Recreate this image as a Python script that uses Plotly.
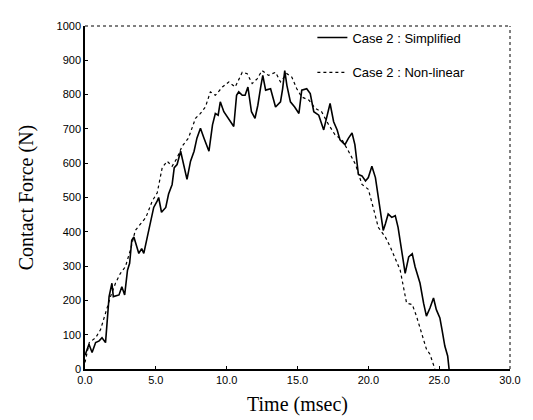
import plotly.graph_objects as go

# Case 2 : Simplified (solid)
t_simplified = [0.0, 0.28, 0.5, 0.75, 1.0, 1.2, 1.45, 1.5, 1.7, 1.9, 2.0, 2.4, 2.6, 2.8, 3.0, 3.15,
                3.3, 3.45, 3.8, 4.0, 4.15, 4.4, 4.6, 4.85, 5.1, 5.2, 5.4, 5.7, 5.9, 6.15, 6.3, 6.5,
                6.75, 7.0, 7.2, 7.45, 7.7, 7.9, 8.15, 8.4, 8.75, 9.0, 9.2, 9.4, 9.55, 9.8, 10.1,
                10.5, 10.7, 10.85, 11.1, 11.3, 11.5, 11.75, 12.0, 12.2, 12.4, 12.55, 12.75, 13.1,
                13.45, 13.8, 13.95, 14.1, 14.25, 14.5, 14.8, 15.1, 15.3, 15.65, 15.9, 16.15, 16.5,
                16.85, 17.1, 17.3, 17.55, 17.8, 18.0, 18.35, 18.6, 18.85, 19.05, 19.3, 19.55, 19.8,
                20.0, 20.25, 20.5, 20.7, 20.9, 21.05, 21.2, 21.4, 21.65, 21.9, 22.1, 22.35, 22.6,
                22.85, 23.1, 23.3, 23.65, 23.9, 24.1, 24.35, 24.6, 24.8, 25.05, 25.2, 25.4, 25.6, 25.7]
f_simplified = [40, 72, 48, 77, 82, 91, 77, 106, 211, 250, 211, 216, 240, 216, 288, 308,
                375, 385, 337, 351, 337, 385, 423, 471, 490, 500, 457, 471, 510, 538, 587, 596,
                635, 587, 553, 606, 635, 673, 702, 673, 635, 712, 745, 740, 779, 750, 731,
                707, 798, 808, 798, 798, 822, 750, 731, 769, 822, 856, 813, 817,
                764, 779, 817, 870, 827, 779, 764, 745, 813, 817, 803, 750, 740,
                697, 740, 774, 721, 697, 668, 654, 673, 688, 654, 567, 563, 548,
                558, 591, 558, 500, 452, 404, 423, 452, 442, 447, 413, 346, 279,
                327, 336, 298, 250, 192, 154, 178, 207, 173, 149, 115, 67, 38, 0]

# Case 2 : Non-linear (dotted)
t_nonlinear = [0.0, 0.3, 0.75, 1.1, 1.45, 1.8, 2.15, 2.5, 2.85, 3.2, 3.55, 3.9, 4.3, 4.75, 5.1,
               5.45, 5.8, 6.15, 6.5, 6.85, 7.3, 7.8, 8.15, 8.5, 8.85, 9.2, 9.7, 10.15, 10.6,
               11.1, 11.45, 11.8, 12.15, 12.5, 12.95, 13.45, 13.8, 14.25, 14.6, 14.95, 15.3,
               15.8, 16.25, 16.7, 17.2, 17.65, 18.15, 18.6, 19.1, 19.55, 20.0, 20.4, 20.7,
               21.2, 21.55, 21.9, 22.25, 22.7, 23.1, 23.4, 23.8, 24.1, 24.35, 24.7]
f_nonlinear = [19, 77, 91, 115, 163, 211, 250, 279, 298, 346, 404, 423, 442, 490, 514,
               587, 606, 591, 615, 649, 673, 731, 745, 764, 808, 798, 822, 837, 822,
               865, 861, 832, 846, 870, 856, 865, 837, 861, 851, 817, 793,
               784, 760, 750, 712, 683, 668, 635, 596, 538, 524, 462, 413,
               385, 356, 322, 288, 192, 188, 154, 101, 58, 43, 0]

x_ticks = [0, 5, 10, 15, 20, 25, 30]
y_ticks = [0, 100, 200, 300, 400, 500, 600, 700, 800, 900, 1000]

fig = go.Figure()
fig.add_trace(go.Scatter(x=t_simplified, y=f_simplified, mode="lines",
                         name="Case 2 : Simplified", legendgroup="a",
                         line=dict(color="black", width=1.6)))
fig.add_trace(go.Scatter(x=t_nonlinear, y=f_nonlinear, mode="lines",
                         name="Case 2 : Non-linear", legendgroup="b",
                         line=dict(color="black", width=1.2, dash="dot")))

fig.update_layout(
    width=533, height=420,
    margin=dict(l=77, r=31, t=13, b=59),
    paper_bgcolor="white", plot_bgcolor="white",
    showlegend=True,
    legend=dict(x=0.535, y=1.01, xanchor="left", yanchor="top",
                font=dict(family="Liberation Sans, Arial", size=13, color="black"),
                bgcolor="rgba(0,0,0,0)", tracegroupgap=15, itemwidth=30),
    xaxis=dict(range=[0, 30], tickvals=x_ticks, tickformat=".1f",
               ticks="inside", ticklen=3, tickcolor="black",
               showline=True, linecolor="black", linewidth=1.5,
               showgrid=False, zeroline=False,
               tickfont=dict(family="Liberation Sans, Arial", size=11, color="black"),
               title=dict(text="Time (msec)", standoff=12,
                          font=dict(family="Liberation Serif, Times New Roman", size=20, color="black"))),
    yaxis=dict(range=[0, 1000], tickvals=y_ticks,
               ticks="inside", ticklen=3, tickcolor="black",
               showline=True, linecolor="black", linewidth=1.5,
               showgrid=False, zeroline=False,
               tickfont=dict(family="Liberation Sans, Arial", size=11, color="black"),
               title=dict(text="Contact Force (N)", standoff=18,
                          font=dict(family="Liberation Serif, Times New Roman", size=20, color="black"))),
)

# dotted top and right frame
fig.add_shape(type="line", xref="x domain", yref="y domain", x0=0, x1=1, y0=1, y1=1,
              line=dict(color="black", width=1, dash="dot"))
fig.add_shape(type="line", xref="x domain", yref="y domain", x0=1, x1=1, y0=0, y1=1,
              line=dict(color="black", width=1, dash="dot"))

fig.write_html("out.html")
